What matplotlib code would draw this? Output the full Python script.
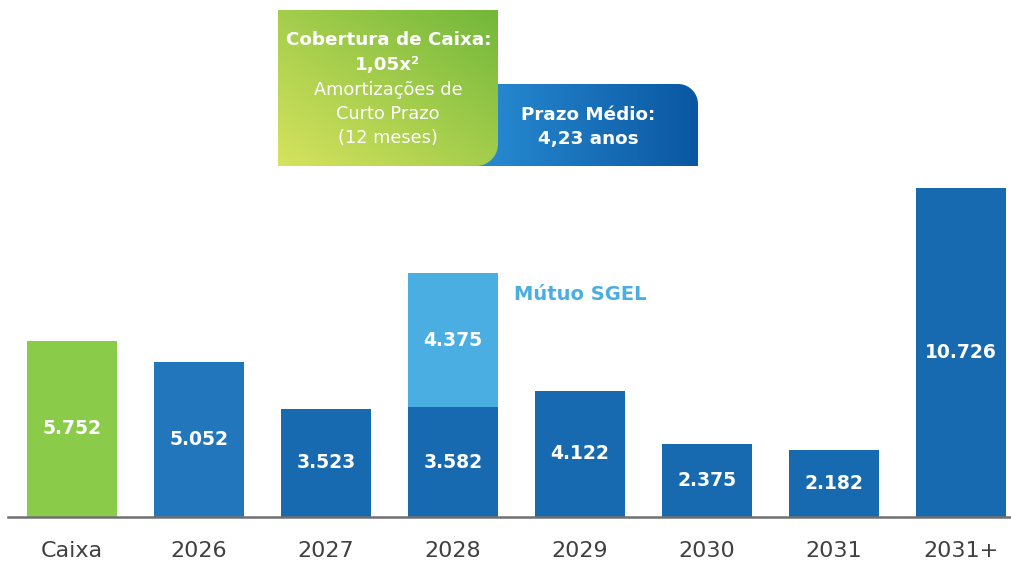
import numpy as np
import matplotlib
matplotlib.use("Agg")
import matplotlib.pyplot as plt
from matplotlib.path import Path
from matplotlib.patches import PathPatch

categories = ["Caixa", "2026", "2027", "2028", "2029", "2030", "2031", "2031+"]
values = [5752, 5052, 3523, 3582, 4122, 2375, 2182, 10726]
mutuo_values = [0, 0, 0, 4375, 0, 0, 0, 0]
value_labels = ["5.752", "5.052", "3.523", "3.582", "4.122", "2.375", "2.182", "10.726"]
mutuo_labels = ["", "", "", "4.375", "", "", "", ""]
bar_colors = ["#8BCB4A", "#2176BC", "#176AB0", "#176AB0", "#176AB0", "#176AB0", "#176AB0", "#176AB0"]
mutuo_color = "#4AAEE3"

W, H = 1012, 562
fig = plt.figure(figsize=(W / 100, H / 100), dpi=100)
fig.patch.set_facecolor("white")

# main bar axes
ax = fig.add_axes([8 / W, 45 / H, 1004 / W, 517 / H])
x = np.arange(len(categories))
ax.bar(x, values, width=0.71, color=bar_colors, zorder=2)
ax.bar(x, mutuo_values, bottom=values, width=0.71, color=mutuo_color, zorder=2)
for xi, v, lab in zip(x, values, value_labels):
    ax.text(xi, v / 2, lab, ha="center", va="center", color="white",
            fontsize=13.5, fontweight="bold", zorder=3)
for xi, v, m, lab in zip(x, values, mutuo_values, mutuo_labels):
    if m > 0:
        ax.text(xi, v + m / 2, lab, ha="center", va="center", color="white",
                fontsize=13.5, fontweight="bold", zorder=3)
ax.set_xlim(-0.504, 7.402)
ax.set_ylim(0, 16855)
ax.set_xticks(x, categories)
ax.tick_params(axis="x", length=0, pad=17, labelsize=16, labelcolor="#404040")
ax.set_yticks([])
for s in ["top", "right", "left"]:
    ax.spines[s].set_visible(False)
ax.spines["bottom"].set_color("#707070")
ax.spines["bottom"].set_linewidth(1.8)
ax.patch.set_alpha(0)

# overlay axes in pixel coordinates
ov = fig.add_axes([0, 0, 1, 1])
ov.set_xlim(0, W)
ov.set_ylim(H, 0)
ov.axis("off")


def box_path(x0, y0, x1, y1, r, corner):
    # y grows downward; corner in {"br", "tr"}
    th = np.linspace(0, np.pi / 2, 20)
    if corner == "br":
        cx, cy = x1 - r, y1 - r
        arc = [(cx + r * np.cos(t), cy + r * np.sin(t)) for t in th]
        verts = [(x0, y0), (x1, y0)] + arc + [(x0, y1), (x0, y0)]
    else:
        cx, cy = x1 - r, y0 + r
        arc = [(cx + r * np.sin(t), cy - r * np.cos(t)) for t in th]
        verts = [(x0, y0)] + arc + [(x1, y1), (x0, y1), (x0, y0)]
    return Path(verts)


def gradient_box(x0, y0, x1, y1, r, corner, c_start, c_end, mode):
    n = 200
    gx, gy = np.meshgrid(np.linspace(0, 1, n), np.linspace(0, 1, n))
    if mode == "diag":
        t = (gx + (1 - gy)) / 2  # 0 at bottom-left, 1 at top-right
    else:
        t = gx
    c0 = np.array(matplotlib.colors.to_rgb(c_start))
    c1 = np.array(matplotlib.colors.to_rgb(c_end))
    img = c0[None, None, :] * (1 - t[..., None]) + c1[None, None, :] * t[..., None]
    im = ov.imshow(img, extent=(x0, x1, y1, y0), aspect="auto", origin="upper",
                   interpolation="bilinear", zorder=2)
    patch = PathPatch(box_path(x0, y0, x1, y1, r, corner), facecolor="none",
                      edgecolor="none", transform=ov.transData)
    ov.add_patch(patch)
    im.set_clip_path(patch)


gradient_box(460, 84, 698, 166, 20, "tr", "#2A90D6", "#0A57A2", "h")
gradient_box(278, 10, 498, 166, 22, "br", "#D6E35E", "#72B73A", "diag")

ov.text(389, 40, "Cobertura de Caixa:", ha="center", va="center", color="white",
        fontsize=13.2, fontweight="bold", zorder=5)
ov.text(388, 65, "1,05x²", ha="center", va="center", color="white",
        fontsize=13.2, fontweight="bold", zorder=5)
for yy, s in [(90, "Amortizações de"), (114, "Curto Prazo"), (138, "(12 meses)")]:
    ov.text(388, yy, s, ha="center", va="center", color="white", fontsize=12.8, zorder=5)
ov.text(588, 115, "Prazo Médio:", ha="center", va="center", color="white",
        fontsize=13.2, fontweight="bold", zorder=5)
ov.text(588, 139, "4,23 anos", ha="center", va="center", color="white",
        fontsize=13.2, fontweight="bold", zorder=5)

ov.text(514, 294, "Mútuo SGEL", ha="left", va="center", color=mutuo_color,
        fontsize=14, fontweight="bold", zorder=5)

fig.savefig("out.png", dpi=100)
